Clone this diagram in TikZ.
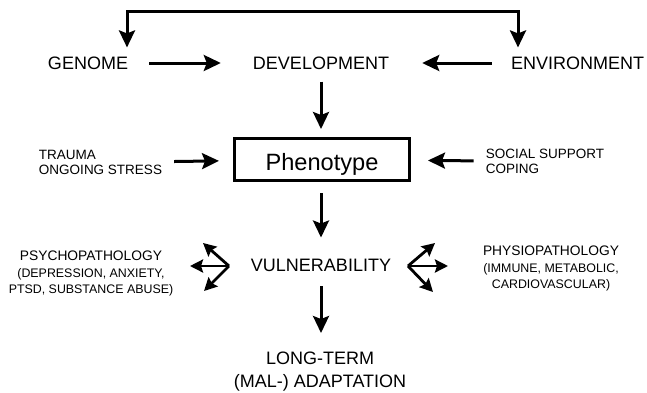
\documentclass[tikz,border=0pt]{standalone}
\usepackage{fontspec}
\setmainfont{Liberation Sans}
\usetikzlibrary{positioning, arrows.meta, calc}

\begin{document}
\begin{tikzpicture}[x=1pt, y=-1pt,
		term/.style={inner sep=0pt, font=\fontsize{18}{23}\selectfont, align=center},
		side/.style={inner sep=0pt, font=\fontsize{13.5}{15.5}\selectfont, align=left},
		detail/.style={inner sep=0pt, font=\fontsize{12.4}{16.5}\selectfont, align=center},
		core/.style={draw, line width=3pt, minimum width=175pt, minimum height=42pt, inner sep=2pt, text height=25pt, text depth=4pt, font=\fontsize{23.6}{28}\selectfont},
		flow/.style={line width=3pt, -{Stealth[length=17pt, width=16pt, inset=3pt]}},
		fork/.style={line width=2.8pt, -{Stealth[length=13pt, width=13pt, inset=2pt]}}
		]
		\useasboundingbox (0,0) rectangle (647,392);
		
		\node[term] (devel) at (321,63) {DEVELOPMENT};
		\node[term] (genome) at (88,63) {GENOME};
		\node[term] (envir) at (577.5,63) {ENVIRONMENT};
		\node[core] (pheno) at (322,159.5) {Phenotype};
		\node[side] (trauma) at (100.5,162.5) {TRAUMA\\ONGOING STRESS};
		\node[side] (social) at (545,161.5) {SOCIAL SUPPORT\\COPING};
		\node[term] (vuln) at (321,265) {VULNERABILITY};
		\node[term, anchor=north] (outcome) at (320,352) {LONG-TERM\\(MAL-) ADAPTATION};
		\node[detail, anchor=north] (psych) at (91,251) {{\fontsize{13.8}{16.5}\selectfont PSYCHOPATHOLOGY}\\(DEPRESSION, ANXIETY,\\PTSD, SUBSTANCE ABUSE)};
		\node[detail, anchor=north] (physio) at (551,246) {{\fontsize{13.8}{16.5}\selectfont PHYSIOPATHOLOGY}\\(IMMUNE, METABOLIC,\\CARDIOVASCULAR)};
		
		\coordinate (fbl) at (127,11);
		\coordinate (fbr) at (518,11);
		\foreach \a/\b/\t in {fbr/fbl/genome, fbl/fbr/envir}{
			\draw[flow, shorten >=9pt] (\a) -- (\b) -- (\b |- \t.north);
		}
		
		\draw[flow, shorten <=21pt, shorten >=32pt] (genome) -- (devel);
		\draw[flow, shorten <=19pt, shorten >=33pt] (envir) -- (devel);
		\draw[flow, shorten <=12pt, shorten >=8pt] (devel) -- (devel |- pheno.north);
		\draw[flow, shorten <=12pt, shorten >=14pt] (trauma) -- (pheno);
		\draw[flow, shorten <=12pt, shorten >=17pt] (social) -- (pheno);
		\draw[flow, shorten <=11pt, shorten >=21pt] (pheno.south -| vuln) -- (vuln);
		\draw[flow, shorten <=15pt, shorten >=19pt] (vuln) -- (vuln |- outcome.north);
		
		\coordinate (fl) at (229,266);
		\coordinate (fr) at (408,266);
		\foreach \dx/\dy in {-39/0, -26/-23, -25/25}{
			\draw[fork] (fl) -- ++(\dx,\dy);
		}
		\foreach \dx/\dy in {40/0, 27/-23, 25/26}{
			\draw[fork] (fr) -- ++(\dx,\dy);
		}
	\end{tikzpicture}
\end{document}
